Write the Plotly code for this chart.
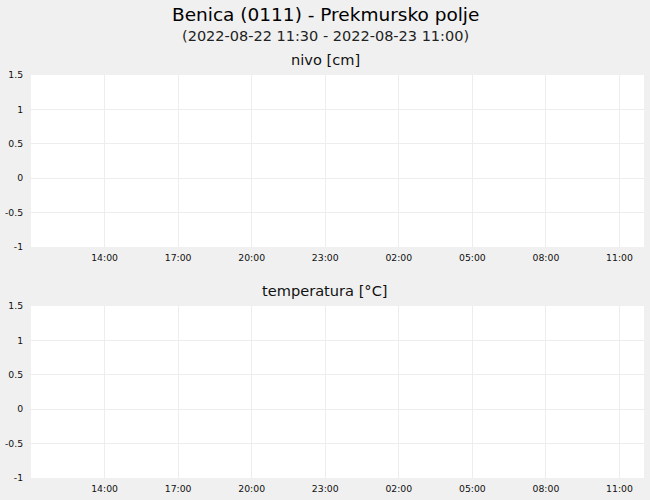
import plotly.graph_objects as go
from plotly.subplots import make_subplots

# station / chart texts
station = "Benica (0111) - Prekmursko polje"
period = "(2022-08-22 11:30 - 2022-08-23 11:00)"
panel_titles = ["nivo [cm]", "temperatura [°C]"]

# no measurements in the period -> both series are empty
nivo_time = []
nivo_values = []
temp_time = []
temp_values = []

# axis ranges and ticks
x_range = ["2022-08-22 11:00", "2022-08-23 12:00"]
x_ticks = ["2022-08-22 14:00", "2022-08-22 17:00", "2022-08-22 20:00",
           "2022-08-22 23:00", "2022-08-23 02:00", "2022-08-23 05:00",
           "2022-08-23 08:00", "2022-08-23 11:00"]
x_labels = ["14:00", "17:00", "20:00", "23:00", "02:00", "05:00", "08:00", "11:00"]
y_range = [-1, 1.5]
y_ticks = [-1, -0.5, 0, 0.5, 1, 1.5]
y_labels = ["-1", "-0.5", "0", "0.5", "1", "1.5"]

BG = "#f0f0f0"
GRID = "#ededed"
FONT = "DejaVu Sans"

fig = make_subplots(rows=2, cols=1)

fig.add_trace(go.Scatter(x=nivo_time, y=nivo_values, mode="lines",
                         line=dict(color="#1f4e9c")), row=1, col=1)
fig.add_trace(go.Scatter(x=temp_time, y=temp_values, mode="lines",
                         line=dict(color="#c0392b")), row=2, col=1)

xaxis_style = dict(type="date", range=x_range, tickvals=x_ticks, ticktext=x_labels,
                   showgrid=True, gridcolor=GRID, zeroline=False, showline=False,
                   ticks="outside", ticklen=2, tickcolor="rgba(0,0,0,0)",
                   tickfont=dict(size=9.3, color="#111"))
yaxis_style = dict(range=y_range, tickvals=y_ticks, ticktext=y_labels,
                   showgrid=True, gridcolor=GRID, zeroline=False, showline=False,
                   ticks="outside", ticklen=5, tickcolor="rgba(0,0,0,0)",
                   tickfont=dict(size=9.3, color="#111"))

fig.update_xaxes(**xaxis_style)
fig.update_yaxes(**yaxis_style)

# plot area is 403 px tall, each panel 172 px
fig.update_layout(
    width=650, height=500,
    margin=dict(l=31, r=6, t=75, b=22),
    paper_bgcolor=BG, plot_bgcolor="white",
    font=dict(family=FONT, color="#111"),
    showlegend=False,
    yaxis=dict(domain=[231 / 403, 1]),
    yaxis2=dict(domain=[0, 172 / 403]),
)

ann = [
    dict(text=station, x=0.5, y=15, size=18.5, color="#000"),
    dict(text=period, x=0.5, y=36.5, size=14.5, color="#222"),
    dict(text=panel_titles[0], x=0.5, y=60, size=14.6, color="#111"),
    dict(text=panel_titles[1], x=0.5, y=290, size=14.6, color="#111"),
]
for a in ann:
    fig.add_annotation(text=a["text"], xref="paper", yref="paper",
                       x=(a["x"] * 650 - 31) / 613, y=(478 - a["y"]) / 403,
                       xanchor="center", yanchor="middle", showarrow=False,
                       font=dict(family=FONT, size=a["size"], color=a["color"]))

# page has a default body margin, drop it so the figure fills the window
fig.write_html("out.html", config={"displayModeBar": False},
               post_script="document.body.style.margin='0';document.body.style.overflow='hidden';")
